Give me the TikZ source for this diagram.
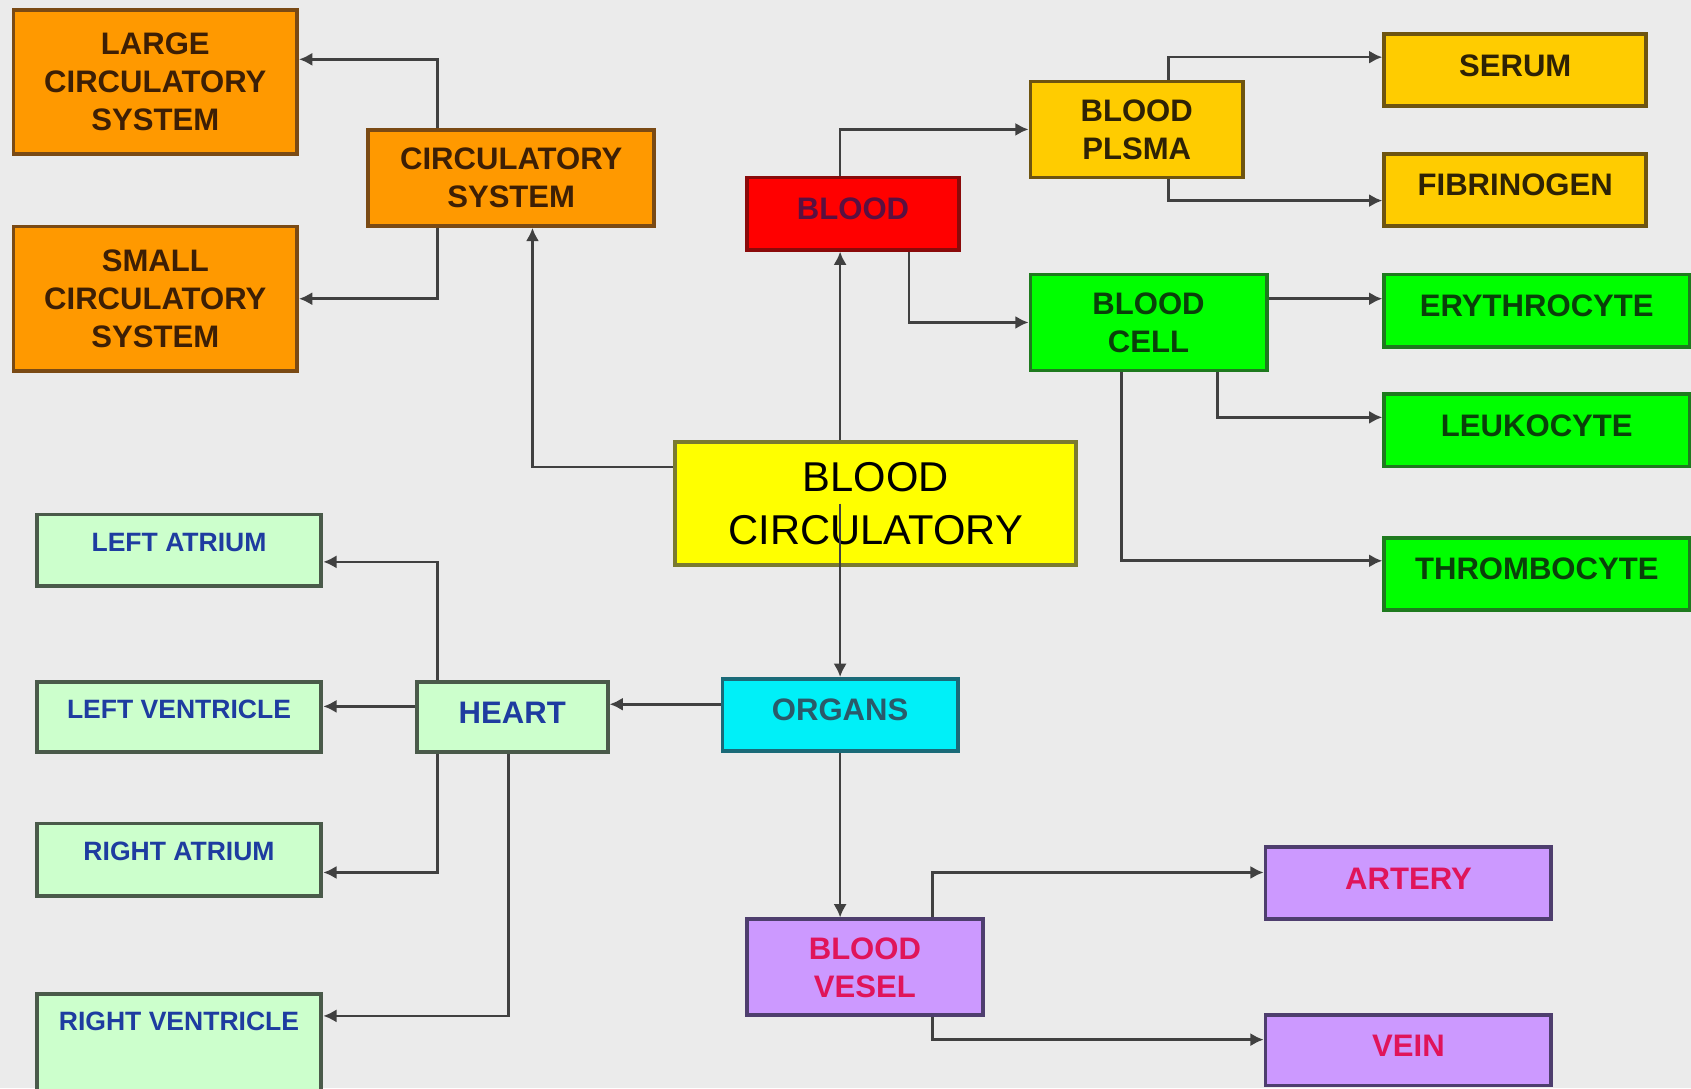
\documentclass[tikz,border=0pt]{standalone}
\usepackage{fontspec}
\setmainfont{Liberation Sans}
\usetikzlibrary{arrows.meta}

\definecolor{bgGray}{HTML}{EBEBEB}
\definecolor{orangeFill}{HTML}{FF9900}
\definecolor{orangeLine}{HTML}{7A4A14}
\definecolor{orangeText}{HTML}{3D1F05}
\definecolor{redFill}{HTML}{FF0000}
\definecolor{redLine}{HTML}{8A0A0A}
\definecolor{redText}{HTML}{5A1040}
\definecolor{goldFill}{HTML}{FFCC00}
\definecolor{goldLine}{HTML}{6E5410}
\definecolor{goldText}{HTML}{2E2205}
\definecolor{greenFill}{HTML}{00FF00}
\definecolor{greenLine}{HTML}{1E7A1E}
\definecolor{greenText}{HTML}{0A400A}
\definecolor{yellowFill}{HTML}{FFFF00}
\definecolor{yellowLine}{HTML}{7A7A30}
\definecolor{mintFill}{HTML}{CCFFCC}
\definecolor{mintLine}{HTML}{4A5A4A}
\definecolor{mintText}{HTML}{1E3CA0}
\definecolor{cyanFill}{HTML}{00F0F8}
\definecolor{cyanLine}{HTML}{1A6A78}
\definecolor{cyanText}{HTML}{2A5A6A}
\definecolor{lilacFill}{HTML}{CC99FF}
\definecolor{lilacLine}{HTML}{4E3E6E}
\definecolor{lilacText}{HTML}{E0145A}
\definecolor{wire}{HTML}{404040}

\tikzset{
  box/.style={draw, line width=1pt, inner sep=0pt, align=center,
    font=\fontsize{8.2}{10}\selectfont\bfseries},
  orangebox/.style={box, fill=orangeFill, draw=orangeLine, text=orangeText},
  redbox/.style={box, fill=redFill, draw=redLine, text=redText},
  goldbox/.style={box, fill=goldFill, draw=goldLine, text=goldText},
  greenbox/.style={box, fill=greenFill, draw=greenLine, text=greenText},
  mintbox/.style={box, fill=mintFill, draw=mintLine, text=mintText},
  heartpart/.style={mintbox, minimum width=2.64cm, font=\fontsize{7}{8.5}\selectfont\bfseries,
    text height=1.8mm, text depth=1.6mm},
  cyanbox/.style={box, fill=cyanFill, draw=cyanLine, text=cyanText},
  lilacbox/.style={box, fill=lilacFill, draw=lilacLine, text=lilacText},
  lifted/.style={text height=2.1mm, text depth=1mm},
  arrow/.style={draw=wire, line width=0.7pt, -{Latex[length=3.5pt,width=3.5pt]}},
}

\begin{document}
\begin{tikzpicture}
    \fill[bgGray] (0, 0) rectangle (15.68, 10.09);
    \useasboundingbox (0, 0) rectangle (15.68, 10.09);

    % Nodes
    \node[orangebox, minimum width=2.63cm, minimum height=1.33cm] at (1.44, 9.33) (large) {LARGE\\CIRCULATORY\\SYSTEM};
    \node[orangebox, minimum width=2.63cm, minimum height=1.34cm] at (1.44, 7.32) (small) {SMALL\\CIRCULATORY\\SYSTEM};
    \node[orangebox, minimum width=2.65cm, minimum height=0.89cm] at (4.74, 8.44) (circsys) {CIRCULATORY\\SYSTEM};
    \node[redbox, lifted, minimum width=1.97cm, minimum height=0.67cm] at (7.91, 8.11) (blood) {BLOOD};
    \node[goldbox, minimum width=1.97cm, minimum height=0.89cm] at (10.54, 8.89) (plasma) {BLOOD\\PLSMA};
    \node[goldbox, lifted, minimum width=2.43cm, minimum height=0.67cm] at (14.05, 9.44) (serum) {SERUM};
    \node[goldbox, lifted, minimum width=2.43cm, minimum height=0.67cm] at (14.05, 8.33) (fibrin) {FIBRINOGEN};
    \node[greenbox, minimum width=2.19cm, minimum height=0.89cm] at (10.65, 7.10) (cell) {BLOOD\\CELL};
    \node[greenbox, lifted, minimum width=2.83cm, minimum height=0.67cm] at (14.25, 7.21) (erythro) {ERYTHROCYTE};
    \node[greenbox, lifted, minimum width=2.83cm, minimum height=0.67cm] at (14.25, 6.10) (leuko) {LEUKOCYTE};
    \node[greenbox, lifted, minimum width=2.83cm, minimum height=0.67cm] at (14.25, 4.77) (thrombo) {THROMBOCYTE};
    \node[box, fill=yellowFill, draw=yellowLine, text=black, minimum width=3.72cm, minimum height=1.14cm,
      font=\fontsize{11}{14}\selectfont] at (8.12, 5.42) (main) {BLOOD\\CIRCULATORY};
    \node[heartpart, minimum height=0.66cm] at (1.66, 4.99) (latrium) {LEFT ATRIUM};
    \node[heartpart, minimum height=0.65cm] at (1.66, 3.44) (lventricle) {LEFT VENTRICLE};
    \node[heartpart, minimum height=0.67cm] at (1.66, 2.12) (ratrium) {RIGHT ATRIUM};
    \node[heartpart, anchor=north, text height=3.4mm, text depth=10mm] at (1.66, 0.89) (rventricle) {RIGHT VENTRICLE};
    \node[mintbox, lifted, minimum width=1.77cm, minimum height=0.65cm] at (4.75, 3.44) (heart) {HEART};
    \node[cyanbox, lifted, minimum width=2.18cm, minimum height=0.67cm] at (7.79, 3.46) (organs) {ORGANS};
    \node[lilacbox, minimum width=2.19cm, minimum height=0.89cm] at (8.02, 1.12) (vessel) {BLOOD\\VESEL};
    \node[lilacbox, lifted, minimum width=2.65cm, minimum height=0.67cm] at (13.06, 1.90) (artery) {ARTERY};
    \node[lilacbox, lifted, minimum width=2.65cm, minimum height=0.65cm] at (13.06, 0.35) (vein) {VEIN};

    % Arrows
    \draw[arrow] ([xshift=0.66cm]circsys.north west) |- ([yshift=0.21cm]large.east);
    \draw[arrow] ([xshift=0.66cm]circsys.south west) |- (small.east);
    \draw[arrow] ([yshift=0.34cm]main.west) -| ([xshift=1.54cm]circsys.south west);
    \draw[arrow] (main.north -| organs.north) -- (blood.south -| organs.north);
    \draw[arrow] (main.center -| organs.north) -- (organs.north);
    \draw[arrow] ([xshift=0.88cm]blood.north west) |- (plasma.west);
    \draw[arrow] ([xshift=1.52cm]blood.south west) |- (cell.west);
    \draw[arrow] ([xshift=1.30cm]plasma.north west) |- ([yshift=0.12cm]serum.west);
    \draw[arrow] ([xshift=1.30cm]plasma.south west) |- ([yshift=-0.10cm]fibrin.west);
    \draw[arrow] ([yshift=0.22cm]cell.east) -- ([yshift=0.22cm]cell.east -| erythro.west);
    \draw[arrow] ([xshift=1.75cm]cell.south west) |- ([yshift=0.12cm]leuko.west);
    \draw[arrow] ([xshift=0.86cm]cell.south west) |- ([yshift=0.12cm]thrombo.west);
    \draw[arrow] ([yshift=0.10cm]organs.west) -- ([yshift=0.10cm]organs.west -| heart.east);
    \draw[arrow] ([yshift=0.10cm]heart.west) -- ([yshift=0.10cm]heart.west -| lventricle.east);
    \draw[arrow] ([xshift=0.21cm]heart.north west) |- ([yshift=-0.11cm]latrium.east);
    \draw[arrow] ([xshift=0.21cm]heart.south west) |- ([yshift=-0.12cm]ratrium.east);
    \draw[arrow] ([xshift=0.87cm]heart.south west) |- ([yshift=-0.22cm]rventricle.north east);
    \draw[arrow] (organs.south) -- (organs.south |- vessel.north);
    \draw[arrow] ([xshift=1.74cm]vessel.north west) |- ([yshift=0.10cm]artery.west);
    \draw[arrow] ([xshift=1.74cm]vessel.south west) |- ([yshift=0.10cm]vein.west);
\end{tikzpicture}
\end{document}
